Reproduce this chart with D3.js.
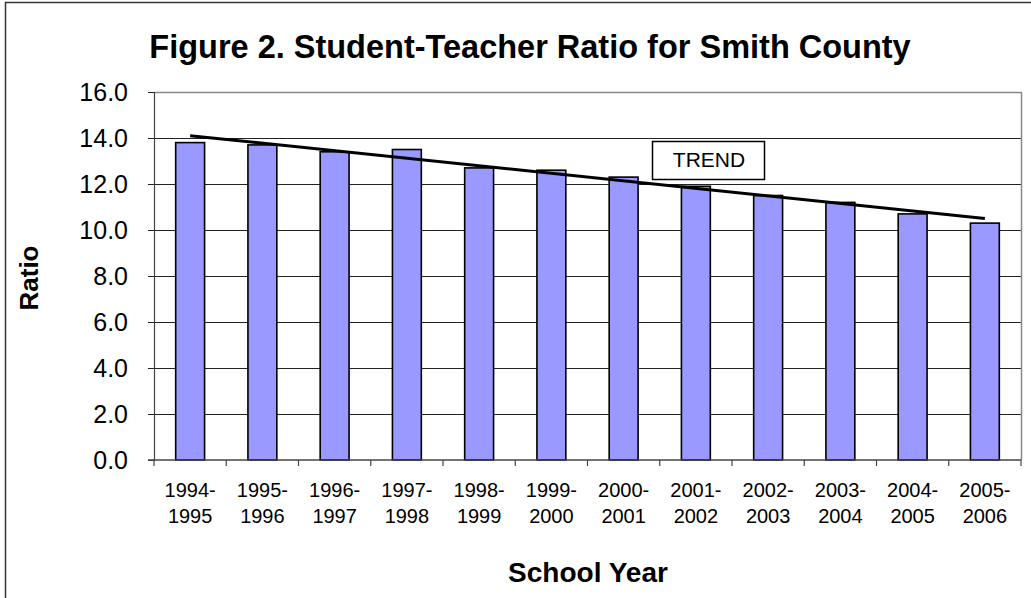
<!DOCTYPE html>
<html>
<head>
<meta charset="utf-8">
<script src="https://cdn.jsdelivr.net/npm/d3@7"></script>
<style>
  html, body { margin: 0; padding: 0; background: #fff; }
  svg { display: block; font-family: "Liberation Sans", Arial, sans-serif; }
</style>
</head>
<body>
<svg id="chart" width="1031" height="598"></svg>
<script>
const titleText = "Figure 2. Student-Teacher Ratio for Smith County";
const yAxisTitle = "Ratio";
const xAxisTitle = "School Year";
const trendLabel = "TREND";
const categories = ["1994-1995","1995-1996","1996-1997","1997-1998","1998-1999","1999-2000",
                    "2000-2001","2001-2002","2002-2003","2003-2004","2004-2005","2005-2006"];
const ratios = [13.8, 13.7, 13.4, 13.5, 12.7, 12.6, 12.3, 11.9, 11.5, 11.2, 10.7, 10.3];
const yTicks = [0, 2, 4, 6, 8, 10, 12, 14, 16];

const svg = d3.select("#chart");
const W = 1031, H = 598;
const plot = { left: 154, right: 1021, top: 92, bottom: 460 };

// outer frame (only left & top visible in view)
svg.append("rect").attr("x", 5.5).attr("y", 2.5).attr("width", W + 20).attr("height", H + 20)
  .attr("fill", "#fff").attr("stroke", "#333").attr("stroke-width", 1.5);

const x = d3.scaleBand().domain(categories).range([plot.left, plot.right])
  .paddingInner(0.6).paddingOuter(0.3);
const y = d3.scaleLinear().domain([0, 16]).range([plot.bottom, plot.top]);

// gridlines
svg.append("g").selectAll("line").data(yTicks.filter(d => d > 0 && d < 16)).join("line")
  .attr("x1", plot.left).attr("x2", plot.right)
  .attr("y1", d => Math.round(y(d)) + 0.5).attr("y2", d => Math.round(y(d)) + 0.5)
  .attr("stroke", "#222").attr("stroke-width", 1);

// plot frame top & right (grey)
svg.append("line").attr("x1", plot.left).attr("x2", plot.right + 0.5)
  .attr("y1", Math.round(y(16)) + 0.5).attr("y2", Math.round(y(16)) + 0.5)
  .attr("stroke", "#888").attr("stroke-width", 1.5);
svg.append("line").attr("x1", plot.right + 0.5).attr("x2", plot.right + 0.5)
  .attr("y1", y(16)).attr("y2", y(0))
  .attr("stroke", "#888").attr("stroke-width", 1.5);

// bars
svg.append("g").selectAll("rect").data(ratios).join("rect")
  .attr("x", (d, i) => x(categories[i]))
  .attr("y", d => y(d))
  .attr("width", x.bandwidth())
  .attr("height", d => y(0) - y(d))
  .attr("fill", "#9999ff").attr("stroke", "#000").attr("stroke-width", 1.6);

// y axis
const yAxis = d3.axisLeft(y).tickValues(yTicks).tickFormat(d3.format(".1f"))
  .tickSize(6).tickPadding(20);
const gy = svg.append("g").attr("transform", `translate(${plot.left},0)`).call(yAxis);
gy.select(".domain").attr("stroke", "#444").attr("stroke-width", 1.2);
gy.selectAll(".tick line").attr("stroke", "#222");
gy.selectAll(".tick text").attr("font-size", 25).attr("fill", "#000")
  .attr("font-family", "'Liberation Sans', Arial, sans-serif");

// x axis (ticks at category boundaries)
const boundaries = d3.range(categories.length + 1).map(i => plot.left + i * x.step());
const gx = svg.append("g");
gx.append("line").attr("x1", plot.left - 6).attr("x2", plot.right)
  .attr("y1", y(0)).attr("y2", y(0)).attr("stroke", "#444").attr("stroke-width", 1.5);
gx.selectAll("line.tk").data(boundaries).join("line").attr("class", "tk")
  .attr("x1", d => d).attr("x2", d => d).attr("y1", y(0)).attr("y2", y(0) + 6)
  .attr("stroke", "#444").attr("stroke-width", 1.2);
const labels = gx.selectAll("text").data(categories).join("text")
  .attr("text-anchor", "middle").attr("font-size", 20).attr("fill", "#000");
labels.each(function(d) {
  const parts = d.split("-");
  const t = d3.select(this);
  const cx = x(d) + x.bandwidth() / 2;
  t.append("tspan").attr("x", cx).attr("y", 497).text(parts[0] + "-");
  t.append("tspan").attr("x", cx).attr("y", 523).text(parts[1]);
});

// trend line (least squares)
const n = ratios.length;
const xs = d3.range(n);
const mx = d3.mean(xs), my = d3.mean(ratios);
const slope = d3.sum(xs, i => (i - mx) * (ratios[i] - my)) / d3.sum(xs, i => (i - mx) ** 2);
const icpt = my - slope * mx;
svg.append("line")
  .attr("x1", x(categories[0]) + x.bandwidth() / 2)
  .attr("y1", y(icpt))
  .attr("x2", x(categories[n - 1]) + x.bandwidth() / 2)
  .attr("y2", y(icpt + slope * (n - 1)))
  .attr("stroke", "#000").attr("stroke-width", 3);

// TREND label box
svg.append("rect").attr("x", 652.5).attr("y", 141.5).attr("width", 112).attr("height", 38)
  .attr("fill", "#fff").attr("stroke", "#000").attr("stroke-width", 1.5);
svg.append("text").attr("x", 709).attr("y", 167).attr("text-anchor", "middle")
  .attr("font-size", 21).attr("fill", "#000").text(trendLabel);

// titles
svg.append("text").attr("x", 530).attr("y", 58).attr("text-anchor", "middle")
  .attr("font-size", 32.5).attr("font-weight", "bold").attr("fill", "#000").text(titleText);
svg.append("text").attr("transform", "translate(38,278) rotate(-90)")
  .attr("text-anchor", "middle").attr("font-size", 26).attr("font-weight", "bold")
  .attr("fill", "#000").text(yAxisTitle);
svg.append("text").attr("x", 588).attr("y", 582).attr("text-anchor", "middle")
  .attr("font-size", 28).attr("font-weight", "bold").attr("fill", "#000").text(xAxisTitle);
</script>
</body>
</html>
